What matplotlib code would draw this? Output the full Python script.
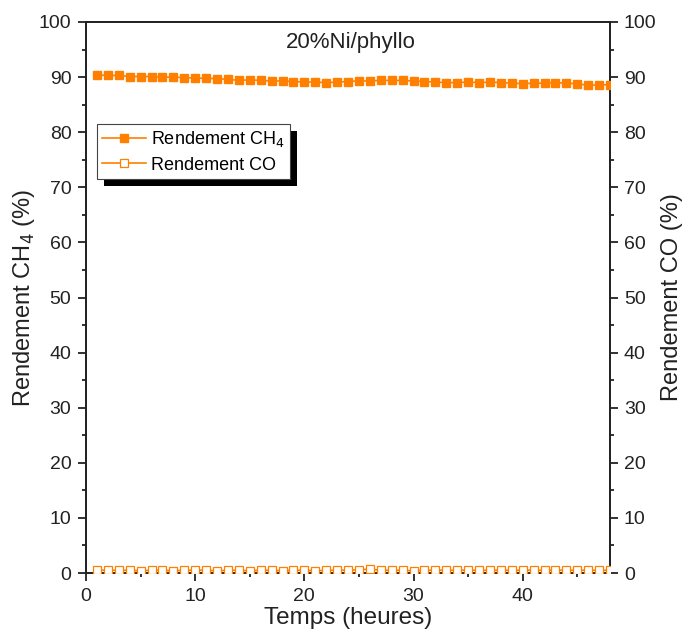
import matplotlib
matplotlib.use("Agg")
import matplotlib.pyplot as plt
from matplotlib.patches import Rectangle
from matplotlib.transforms import IdentityTransform
from matplotlib.ticker import MultipleLocator

plt.rcParams['font.family'] = ['Liberation Sans', 'DejaVu Sans']

hours = list(range(1, 49))
ch4_yield = [90.4, 90.3, 90.3, 90.1, 90.1, 90.1, 90.0, 90.0, 89.9, 89.8,
             89.8, 89.7, 89.6, 89.4, 89.5, 89.4, 89.3, 89.3, 89.2, 89.1,
             89.1, 89.0, 89.1, 89.2, 89.3, 89.3, 89.4, 89.4, 89.4, 89.3,
             89.2, 89.1, 89.0, 89.0, 89.1, 89.0, 89.1, 89.0, 88.9, 88.8,
             88.9, 88.9, 89.0, 88.9, 88.8, 88.5, 88.6, 88.6]
co_yield = [0.5, 0.5, 0.5, 0.5, 0.4, 0.5, 0.5, 0.4, 0.5, 0.5,
            0.5, 0.4, 0.5, 0.5, 0.4, 0.5, 0.5, 0.4, 0.5, 0.5,
            0.4, 0.5, 0.5, 0.5, 0.6, 0.7, 0.5, 0.5, 0.5, 0.4,
            0.5, 0.5, 0.5, 0.5, 0.5, 0.5, 0.5, 0.5, 0.5, 0.5,
            0.5, 0.5, 0.5, 0.5, 0.5, 0.5, 0.5, 0.5]

title = "20%Ni/phyllo"
xlabel = "Temps (heures)"
ylabel_left = "Rendement CH$_4$ (%)"
ylabel_right = "Rendement CO (%)"
label_ch4 = "Rendement CH$_4$"
label_co = "Rendement CO"

orange = '#FF8000'
dark = '#222222'

L, R, T, B = 86, 610, 22, 573
fig = plt.figure(figsize=(6.84, 6.35), dpi=100)
ax = fig.add_axes([L/684, 1-B/635, (R-L)/684, (B-T)/635])
ax2 = ax.twinx()

l1, = ax.plot(hours, ch4_yield, color=orange, marker='s', markersize=5.8,
              linewidth=1.2, markerfacecolor=orange, markeredgecolor=orange,
              label=label_ch4, zorder=3)
l2, = ax.plot(hours, co_yield, color=orange, marker='s', markersize=5.8,
              linewidth=1.2, markerfacecolor='white', markeredgecolor=orange,
              markeredgewidth=0.9, label=label_co, zorder=3)

for a in (ax, ax2):
    a.set_xlim(0, 48)
    a.set_ylim(0, 100)
    a.yaxis.set_major_locator(MultipleLocator(10))
    a.yaxis.set_minor_locator(MultipleLocator(5))
    for s in a.spines.values():
        s.set_linewidth(1.3)
        s.set_color(dark)

ax.xaxis.set_major_locator(MultipleLocator(10))
ax.xaxis.set_minor_locator(MultipleLocator(5))
ax.tick_params(axis='both', which='major', direction='out', length=6, width=1.3,
               labelsize=14, colors=dark, pad=4.5)
ax.tick_params(axis='both', which='minor', direction='out', length=3.2, width=1.3,
               colors=dark)
ax.tick_params(axis='x', top=False, which='both')
ax2.tick_params(axis='y', which='major', direction='out', length=6, width=1.3,
                labelsize=14, colors=dark, pad=4)
ax2.tick_params(axis='y', which='minor', direction='out', length=3.2, width=1.3,
                colors=dark)

ax.set_xlabel(xlabel, fontsize=17.5, labelpad=2, color=dark)
ax.set_ylabel(ylabel_left, fontsize=17, labelpad=1, color=dark)
ax2.set_ylabel(ylabel_right, fontsize=17, labelpad=3, color=dark)

ax.text(0.505, 0.963, title, transform=ax.transAxes, ha='center', va='center',
        fontsize=16, color=dark)

leg = ax.legend(handles=[l1, l2], loc='upper left',
                bbox_to_anchor=((97-L)/(R-L), (B-124)/(B-T)),
                fontsize=13, frameon=True, fancybox=False, edgecolor='#444444',
                framealpha=1, handlelength=2.4, handletextpad=0.3,
                borderpad=0.3, labelspacing=0.4, borderaxespad=0)
leg.get_frame().set_linewidth(0.8)
leg.set_zorder(10)

fig.canvas.draw()
bb = leg.get_window_extent()
shadow = Rectangle((bb.x0 + 7, bb.y0 - 7), bb.width, bb.height,
                   transform=IdentityTransform(), facecolor='black',
                   edgecolor='none', zorder=9)
ax.add_artist(shadow)
ax.set_zorder(ax2.get_zorder() + 1)
ax.patch.set_visible(False)

fig.savefig('out.png', dpi=100)
